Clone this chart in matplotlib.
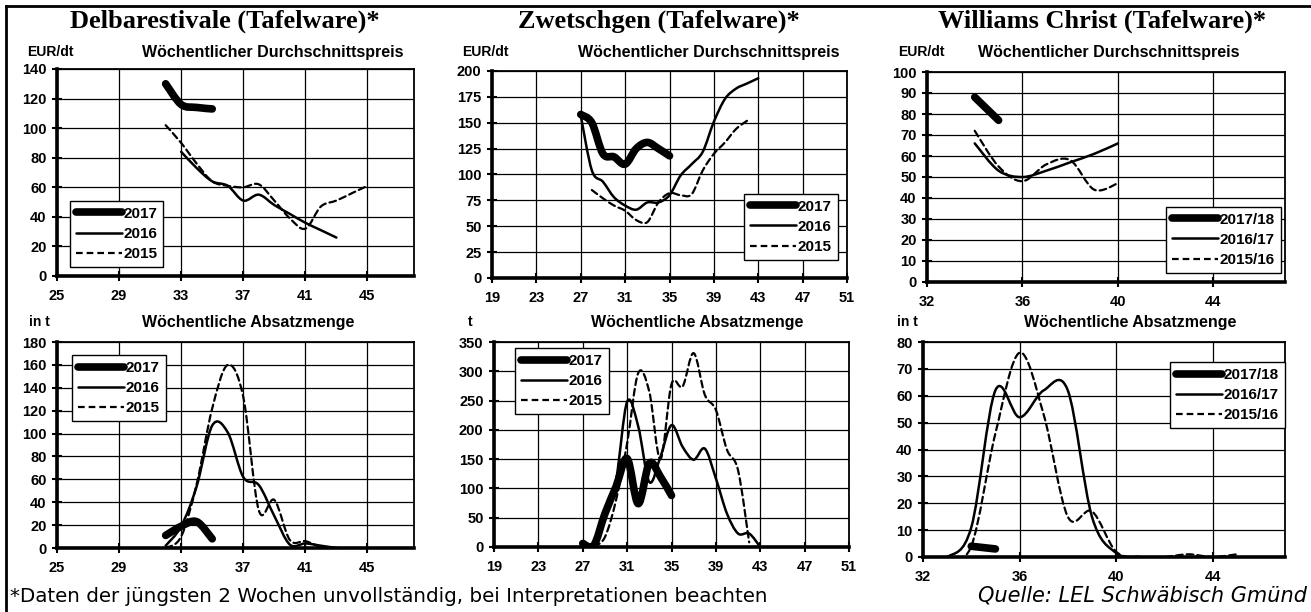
import numpy as np
import matplotlib
matplotlib.use("Agg")
import matplotlib.pyplot as plt
from matplotlib.path import Path
from matplotlib.patches import PathPatch
from matplotlib.lines import Line2D

plt.rcParams['font.family'] = ['Liberation Sans', 'DejaVu Sans']
plt.rcParams['font.weight'] = 'bold'

W, H = 1311, 612

# ---- Delbarestivale ----
del_price_wk17 = [32, 33, 34, 35]
del_price_17 = [130, 116, 114, 113]
del_price_wk16 = [33, 34, 35, 36, 37, 38, 39, 40, 41, 42, 43]
del_price_16 = [84, 73, 64, 61, 51, 55, 48, 42, 36, 31, 26]
del_price_wk15 = [32, 33, 34, 35, 36, 37, 38, 39, 40, 41, 42, 43, 44, 45]
del_price_15 = [102, 90, 76, 64, 61, 60, 62, 51, 39, 32, 47, 51, 56, 61]

del_qty_wk17 = [32, 33, 34, 35]
del_qty_17 = [11, 19, 23, 8]
del_qty_wk16 = [32, 33, 34, 35, 36, 37, 38, 39, 40, 41, 42, 43]
del_qty_16 = [2, 19, 54, 107, 101, 62, 55, 28, 3, 4, 2, 0]
del_qty_wk15 = [32, 33, 34, 35, 36, 37, 38, 39, 40, 41, 42, 43, 44, 45]
del_qty_15 = [0, 10, 56, 122, 160, 132, 33, 42, 7, 6, 1, 0, 0, 0]

# ---- Zwetschgen ----
zw_price_wk17 = [27, 28, 29, 30, 31, 32, 33, 34, 35]
zw_price_17 = [158, 150, 120, 117, 110, 125, 131, 125, 118]
zw_price_wk16 = [27, 28, 29, 30, 31, 32, 33, 34, 35, 36, 37, 38, 39, 40, 41, 42, 43]
zw_price_16 = [157, 104, 93, 78, 70, 66, 73, 73, 80, 99, 110, 122, 151, 173, 183, 188, 193]
zw_price_wk15 = [28, 29, 30, 31, 32, 33, 34, 35, 36, 37, 38, 39, 40, 41, 42]
zw_price_15 = [85, 77, 70, 65, 56, 54, 73, 82, 80, 81, 104, 120, 131, 144, 152]

zw_qty_wk17 = [27, 28, 29, 30, 31, 32, 33, 34, 35]
zw_qty_17 = [6, 3, 57, 103, 151, 74, 143, 120, 88]
zw_qty_wk16 = [27, 28, 29, 30, 31, 32, 33, 34, 35, 36, 37, 38, 39, 40, 41, 42, 43]
zw_qty_16 = [0, 3, 57, 114, 248, 206, 111, 154, 208, 171, 149, 168, 117, 57, 23, 23, 0]
zw_qty_wk15 = [28, 29, 30, 31, 32, 33, 34, 35, 36, 37, 38, 39, 40, 41, 42]
zw_qty_15 = [0, 17, 80, 177, 297, 265, 150, 278, 274, 331, 260, 234, 166, 131, 8]

# ---- Williams Christ ----
wc_price_wk17 = [34, 35]
wc_price_17 = [88, 77]
wc_price_wk16 = [34, 35, 36, 37, 38, 39, 40]
wc_price_16 = [66, 53, 50, 53, 57, 61, 66]
wc_price_wk15 = [34, 35, 36, 37, 38, 39, 40]
wc_price_15 = [72, 55, 48, 56, 58, 44, 47]

wc_qty_wk17 = [34, 35]
wc_qty_17 = [4, 3]
wc_qty_wk16 = [32, 33, 34, 35, 36, 37, 38, 39, 40, 41]
wc_qty_16 = [0, 0, 11, 62, 52, 62, 62, 15, 1.5, 0]
wc_qty_wk15 = [33, 34, 35, 36, 37, 38, 39, 40, 41, 42, 43, 44, 45]
wc_qty_15 = [0, 4, 46, 76, 53, 15, 17, 2, 0, 0, 1, 0, 1]

labels_a = ['2017', '2016', '2015']
labels_b = ['2017/18', '2016/17', '2015/16']

STY = [dict(lw=5.5, ls='-', color='black'),
       dict(lw=1.8, ls='-', color='black'),
       dict(lw=1.6, ls=(0, (3, 1.8)), color='black')]


def smooth_path(xs, ys):
    # Excel-like smoothed line (Catmull-Rom as cubic bezier)
    pts = np.column_stack([xs, ys]).astype(float)
    n = len(pts)
    verts = [pts[0]]
    codes = [Path.MOVETO]
    for i in range(n - 1):
        p0 = pts[i - 1] if i > 0 else pts[i]
        p1 = pts[i]
        p2 = pts[i + 1]
        p3 = pts[i + 2] if i + 2 < n else pts[i + 1]
        verts += [p1 + (p2 - p0) / 6, p2 - (p3 - p1) / 6, p2]
        codes += [Path.CURVE4] * 3
    return Path(verts, codes)


def add_axes(l, r, t, b):
    return fig.add_axes([l / W, 1 - b / H, (r - l) / W, (b - t) / H])


def setup(ax, xlim, xticks, ylim, yticks):
    ax.set_xlim(*xlim)
    ax.set_ylim(*ylim)
    ax.set_xticks(xticks)
    ax.set_yticks(yticks)
    ax.grid(True, color='black', lw=0.9)
    ax.set_axisbelow(True)
    for s in ['left', 'bottom']:
        ax.spines[s].set_linewidth(2.6)
    for s in ['top', 'right']:
        ax.spines[s].set_linewidth(1.3)
    ax.tick_params(direction='inout', length=7, width=1.5, labelsize=10.5, pad=4)
    ax.tick_params(axis='x', pad=6)


def draw(ax, series, labels, leg_loc, leg_anchor):
    for (xs, ys), st in zip(series, STY):
        ax.add_patch(PathPatch(smooth_path(xs, ys), fill=False, lw=st['lw'],
                               ls=st['ls'], edgecolor=st['color'],
                               capstyle='round', joinstyle='round',
                               transform=ax.transData))
    handles = [Line2D([], [], lw=st['lw'], ls=st['ls'], color=st['color'],
                      solid_capstyle='round') for st in STY]
    leg = ax.legend(handles, labels, loc=leg_loc, bbox_to_anchor=leg_anchor,
                    borderaxespad=0, fancybox=False, framealpha=1,
                    edgecolor='black', fontsize=11, handlelength=3.0,
                    handletextpad=0.1, labelspacing=0.4, borderpad=0.4)
    leg.get_frame().set_linewidth(1.0)


fig = plt.figure(figsize=(W / 100, H / 100), dpi=100)

# --- panel 1
ax = add_axes(57, 414, 69, 276)
setup(ax, (25, 48), [25, 29, 33, 37, 41, 45], (0, 140), range(0, 141, 20))
draw(ax, [(del_price_wk17, del_price_17), (del_price_wk16, del_price_16),
          (del_price_wk15, del_price_15)], labels_a, 'lower left', (0.036, 0.043))
ax = add_axes(57, 414, 342, 548)
setup(ax, (25, 48), [25, 29, 33, 37, 41, 45], (0, 180), range(0, 181, 20))
draw(ax, [(del_qty_wk17, del_qty_17), (del_qty_wk16, del_qty_16),
          (del_qty_wk15, del_qty_15)], labels_a, 'upper left', (0.042, 0.937))

# --- panel 2
ax = add_axes(492, 847, 71, 278)
setup(ax, (19, 51), range(19, 52, 4), (0, 200), range(0, 201, 25))
draw(ax, [(zw_price_wk17, zw_price_17), (zw_price_wk16, zw_price_16),
          (zw_price_wk15, zw_price_15)], labels_a, 'lower left', (0.71, 0.087))
ax = add_axes(494, 849, 342, 547)
setup(ax, (19, 51), range(19, 52, 4), (0, 350), range(0, 351, 50))
draw(ax, [(zw_qty_wk17, zw_qty_17), (zw_qty_wk16, zw_qty_16),
          (zw_qty_wk15, zw_qty_15)], labels_a, 'upper left', (0.059, 0.971))

# --- panel 3
ax = add_axes(927, 1285, 72, 282)
setup(ax, (32, 47), [32, 36, 40, 44], (0, 100), range(0, 101, 10))
draw(ax, [(wc_price_wk17, wc_price_17), (wc_price_wk16, wc_price_16),
          (wc_price_wk15, wc_price_15)], labels_b, 'lower left', (0.668, 0.043))
ax = add_axes(923, 1285, 342, 557)
setup(ax, (32, 47), [32, 36, 40, 44], (0, 80), range(0, 81, 10))
draw(ax, [(wc_qty_wk17, wc_qty_17), (wc_qty_wk16, wc_qty_16),
          (wc_qty_wk15, wc_qty_15)], labels_b, 'upper left', (0.682, 0.907))

# --- texts
def ftext(x, y, s, **kw):
    fig.text(x / W, 1 - y / H, s, **kw)

title_kw = dict(fontsize=19, fontweight='bold', family='Liberation Serif',
                ha='center', va='center')
ftext(225, 21, 'Delbarestivale (Tafelware)*', **title_kw)
ftext(659, 21, 'Zwetschgen (Tafelware)*', **title_kw)
ftext(1102, 21, 'Williams Christ (Tafelware)*', **title_kw)

sub_kw = dict(fontsize=11.5, fontweight='bold', ha='center', va='center')
unit_kw = dict(fontsize=10, fontweight='bold', ha='left', va='center')
ftext(273, 52, 'Wöchentlicher Durchschnittspreis', **sub_kw)
ftext(709, 52, 'Wöchentlicher Durchschnittspreis', **sub_kw)
ftext(1109, 52, 'Wöchentlicher Durchschnittspreis', **sub_kw)
ftext(27, 52, 'EUR/dt', **unit_kw)
ftext(462, 52, 'EUR/dt', **unit_kw)
ftext(898, 52, 'EUR/dt', **unit_kw)

ftext(248, 322, 'Wöchentliche Absatzmenge', **sub_kw)
ftext(697, 322, 'Wöchentliche Absatzmenge', **sub_kw)
ftext(1130, 322, 'Wöchentliche Absatzmenge', **sub_kw)
ftext(29, 322, 'in t', **unit_kw)
ftext(468, 322, 't', **unit_kw)
ftext(897, 322, 'in t', **unit_kw)

ftext(10, 596, '*Daten der jüngsten 2 Wochen unvollständig, bei Interpretationen beachten',
      fontsize=14.3, fontweight='normal', family='DejaVu Sans', ha='left', va='center')
ftext(1307, 596, 'Quelle: LEL Schwäbisch Gmünd', fontsize=15, fontweight='normal',
      style='italic', family='DejaVu Sans', ha='right', va='center')

# frame lines at top and left
fig.add_artist(Line2D([6 / W, 6 / W], [0, 1 - 6 / H], transform=fig.transFigure,
                      color='black', lw=2))
fig.add_artist(Line2D([6 / W, 1], [1 - 6 / H, 1 - 6 / H], transform=fig.transFigure,
                      color='black', lw=2))

fig.savefig('out.png', dpi=100)
